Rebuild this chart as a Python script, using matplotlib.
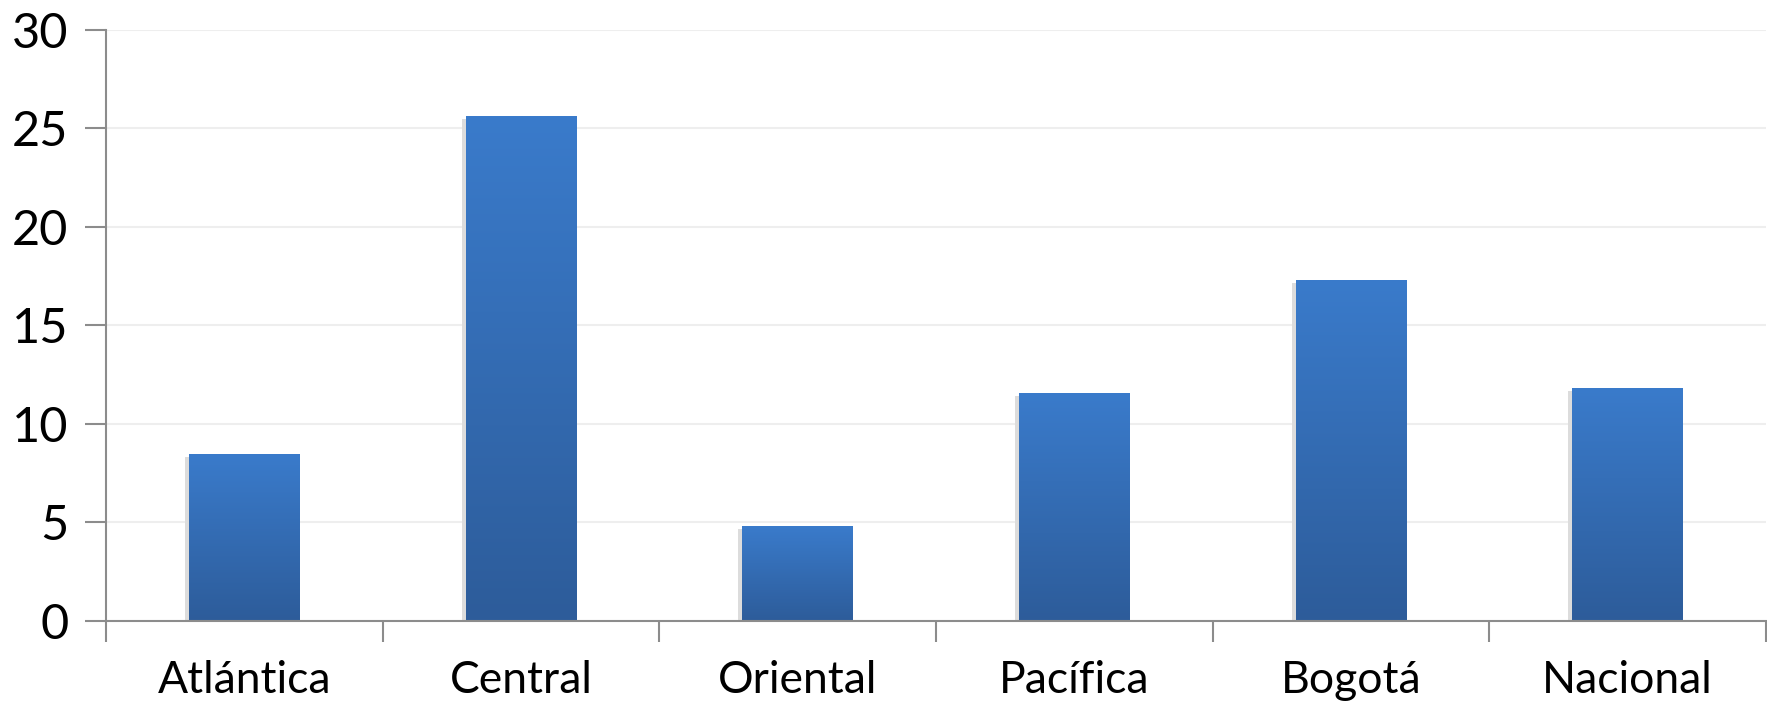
import matplotlib
matplotlib.use("Agg")
import matplotlib.pyplot as plt
import numpy as np
from matplotlib.colors import LinearSegmentedColormap
import matplotlib.transforms as mtransforms

regions = ["Atlántica", "Central", "Oriental", "Pacífica", "Bogotá", "Nacional"]
values = [8.45, 25.6, 4.8, 11.55, 17.3, 11.8]
y_ticks = [0, 5, 10, 15, 20, 25, 30]

plt.rcParams["font.family"] = ["Lato", "DejaVu Sans"]

fig = plt.figure(figsize=(17.67, 7.07), dpi=100)
ax = fig.add_axes([0.060, 0.1216, 0.9394, 0.8364])

x = np.arange(len(regions))
width = 0.40

# light shadow behind each bar
shadow = mtransforms.offset_copy(ax.transData, fig=fig, x=-4, y=-3, units="dots")
ax.bar(x, values, width=width, color="#dcdcdc", transform=shadow, zorder=2)

bars = ax.bar(x, values, width=width, color="#3a7bcb", zorder=3)

# vertical gradient: lighter blue at the top, darker at the bottom
cmap = LinearSegmentedColormap.from_list("bar_grad", ["#2d5c9a", "#3a7bcb"])
grad = np.linspace(0, 1, 256).reshape(-1, 1)
for b in bars:
    x0, y0 = b.get_x(), b.get_y()
    x1, y1 = x0 + b.get_width(), y0 + b.get_height()
    im = ax.imshow(grad, cmap=cmap, origin="lower", aspect="auto",
                   extent=[x0, x1, y0, y1], zorder=4)
    im.set_clip_path(b)

ax.set_xlim(-0.5, len(regions) - 0.5)
ax.set_ylim(0, 30)
ax.set_yticks(y_ticks)
ax.set_yticklabels([str(t) for t in y_ticks], fontsize=35)

ax.set_xticks(x)
ax.set_xticklabels(regions, fontsize=32)
ax.set_xticks(np.arange(-0.5, len(regions)), minor=True)
ax.tick_params(axis="x", which="major", length=0, pad=28)
ax.tick_params(axis="x", which="minor", length=15, width=1.5, color="#8c8c8c")
ax.tick_params(axis="y", length=15, width=1.5, color="#8c8c8c", pad=12)

ax.grid(axis="y", color="#eeeeee", linewidth=1.5, zorder=0)
ax.set_axisbelow(True)
for side in ["top", "right"]:
    ax.spines[side].set_visible(False)
for side in ["left", "bottom"]:
    ax.spines[side].set_color("#8c8c8c")
    ax.spines[side].set_linewidth(1.5)
    ax.spines[side].set_zorder(5)

fig.savefig("out.png", dpi=100)
